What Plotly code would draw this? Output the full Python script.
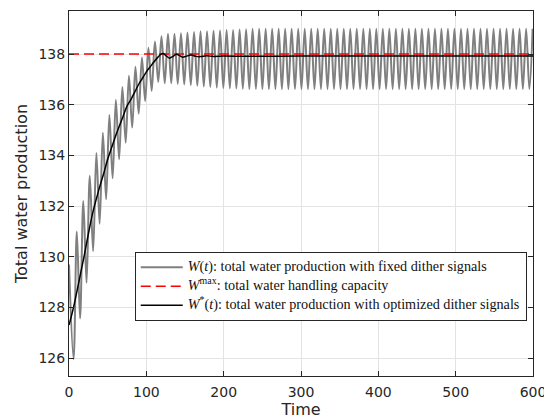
import plotly.graph_objects as go

# ---- Data ----
# Grey curve W(t): start point, then alternating troughs / peaks of the dither oscillation
start_t = [0.0]
start_w = [129.7]

peak_t = [10.1, 18.5, 26.9, 35.4, 43.8, 52.2, 60.6, 69.0, 77.5, 85.9,
          94.3, 102.7, 111.1, 119.6, 128.0, 136.4, 144.8, 153.2, 161.7, 170.1,
          178.5, 186.9, 195.3, 203.8, 212.2, 220.6, 229.0, 237.4, 245.9, 254.3,
          262.7, 271.1, 279.5, 287.9, 296.4, 304.8, 313.2, 321.6, 330.0, 338.5,
          346.9, 355.3, 363.7, 372.1, 380.6, 389.0, 397.4, 405.8, 414.2, 422.7,
          431.1, 439.5, 447.9, 456.3, 464.8, 473.2, 481.6, 490.0, 498.4, 506.9,
          515.3, 523.7, 532.1, 540.5, 549.0, 557.4, 565.8, 574.2, 582.6, 591.1,
          599.5]
peak_w = [131.0, 132.2, 133.2, 134.1, 134.9, 135.6, 136.2, 136.7, 137.15, 137.5,
          137.87, 138.25, 138.5, 138.7, 138.8, 138.8, 138.82, 138.85, 138.87, 138.9,
          138.9, 138.92, 138.93, 138.95, 138.95, 138.97, 138.98, 139.0, 139.0, 139.0,
          139.0, 139.0, 139.0, 139.0, 139.0, 139.0, 139.0, 139.0, 139.0, 139.0,
          139.0, 139.0, 139.0, 139.0, 139.0, 139.0, 139.0, 139.0, 139.0, 139.0,
          139.0, 139.0, 139.0, 139.0, 139.0, 139.0, 139.0, 139.0, 139.0, 139.0,
          139.0, 139.0, 139.0, 139.0, 139.0, 139.0, 139.0, 139.0, 139.0, 139.0,
          139.0]

trough_t = [5.9, 14.3, 22.7, 31.2, 39.6, 48.0, 56.4, 64.8, 73.3, 81.7,
            90.1, 98.5, 106.9, 115.4, 123.8, 132.2, 140.6, 149.0, 157.5, 165.9,
            174.3, 182.7, 191.1, 199.6, 208.0, 216.4, 224.8, 233.2, 241.7, 250.1,
            258.5, 266.9, 275.3, 283.7, 292.2, 300.6, 309.0, 317.4, 325.8, 334.3,
            342.7, 351.1, 359.5, 367.9, 376.4, 384.8, 393.2, 401.6, 410.0, 418.5,
            426.9, 435.3, 443.7, 452.1, 460.6, 469.0, 477.4, 485.8, 494.2, 502.7,
            511.1, 519.5, 527.9, 536.3, 544.8, 553.2, 561.6, 570.0, 578.4, 586.9,
            595.3]
trough_w = [125.97, 127.57, 128.98, 130.22, 131.31, 132.27, 133.1, 133.85, 134.5, 135.1,
            135.65, 136.15, 136.55, 136.9, 136.85, 136.85, 136.82, 136.8, 136.78, 136.75,
            136.72, 136.7, 136.68, 136.66, 136.65, 136.64, 136.63, 136.62, 136.62, 136.62,
            136.62, 136.62, 136.62, 136.62, 136.62, 136.62, 136.62, 136.62, 136.62, 136.62,
            136.62, 136.62, 136.62, 136.62, 136.62, 136.62, 136.62, 136.62, 136.62, 136.62,
            136.62, 136.62, 136.62, 136.62, 136.62, 136.62, 136.62, 136.62, 136.62, 136.62,
            136.62, 136.62, 136.62, 136.62, 136.62, 136.62, 136.62, 136.62, 136.62, 136.62,
            136.62]

# Red dashed capacity line W^max
wmax_t = [0, 600]
wmax_w = [138.0, 138.0]

# Black curve W*(t)
opt_t = [0, 3, 6, 10, 15, 20, 25, 30, 35, 40, 45, 50, 55, 60, 65, 70, 75, 80, 85, 90,
         95, 100, 105, 110, 115, 119, 122, 126, 130, 134, 139, 143, 147, 152, 158, 164,
         170, 178, 186, 200, 230, 300, 400, 500, 600]
opt_w = [127.31, 127.65, 128.03, 128.6, 129.35, 130.1, 130.9, 131.65, 132.25, 132.8,
         133.3, 133.85, 134.3, 134.75, 135.15, 135.55, 135.95, 136.2, 136.5, 136.8,
         137.05, 137.3, 137.5, 137.7, 137.88, 138.0, 138.02, 137.92, 137.84, 137.9,
         137.99, 137.94, 137.88, 137.92, 137.96, 137.91, 137.9, 137.93, 137.91, 137.92,
         137.91, 137.92, 137.92, 137.92, 137.92]

x_ticks = [0, 100, 200, 300, 400, 500, 600]
y_ticks = [126, 128, 130, 132, 134, 136, 138]

legend_names = [
    "<i>W</i>(<i>t</i>): total water production with fixed dither signals",
    "<i>W</i><sup>max</sup>: total water handling capacity",
    "<i>W</i><sup>*</sup>(<i>t</i>): total water production with optimized dither signals",
]

# ---- Build grey series (merge extrema in time order) ----
pts = sorted(zip(start_t + peak_t + trough_t, start_w + peak_w + trough_w))
grey_t = [p[0] for p in pts]
grey_w = [p[1] for p in pts]


def legend_label(txt):
    return '<span style="font-size:14.2px">' + txt + '</span>'


fig = go.Figure()
fig.add_trace(go.Scatter(
    x=grey_t, y=grey_w, mode="lines",
    line=dict(color="#808080", width=2, shape="spline", smoothing=1.0),
    name=legend_label(legend_names[0])))
fig.add_trace(go.Scatter(
    x=wmax_t, y=wmax_w, mode="lines",
    line=dict(color="#ff0000", width=1.5, dash="10px,5px"),
    name=legend_label(legend_names[1])))
fig.add_trace(go.Scatter(
    x=opt_t, y=opt_w, mode="lines",
    line=dict(color="#000000", width=1.5, shape="spline", smoothing=0.6),
    name=legend_label(legend_names[2])))

axis_common = dict(
    showline=True, linecolor="#262626", linewidth=1, mirror="ticks",
    ticks="inside", ticklen=5, tickcolor="#262626", tickwidth=1,
    showgrid=True, gridcolor="#e3e3e3", gridwidth=1, zeroline=False,
    automargin=False,
    tickfont=dict(family="DejaVu Sans", size=14, color="#262626"),
)

# The page body adds an 8px offset, so the figure is sized to fit the 552x419 window.
fig.update_layout(
    width=544, height=411,
    margin=dict(l=61, r=19, t=3, b=43),
    paper_bgcolor="white", plot_bgcolor="white",
    showlegend=True,
    legend=dict(
        x=0.9865, y=0.246, xanchor="right", yanchor="middle",
        bgcolor="white", bordercolor="#262626", borderwidth=1,
        font=dict(family="Liberation Serif", size=10, color="#111111"),
        tracegroupgap=0, itemwidth=42,
    ),
    xaxis=dict(range=[0, 600], tickvals=x_ticks, ticklabelstandoff=3, **axis_common,
               title=dict(text="Time", font=dict(family="DejaVu Sans", size=16, color="#262626"), standoff=6)),
    yaxis=dict(range=[125.3, 139.7], tickvals=y_ticks, **axis_common,
               title=dict(text="Total water production", font=dict(family="DejaVu Sans", size=16, color="#262626"), standoff=6)),
)

fig.write_html("out.html")
